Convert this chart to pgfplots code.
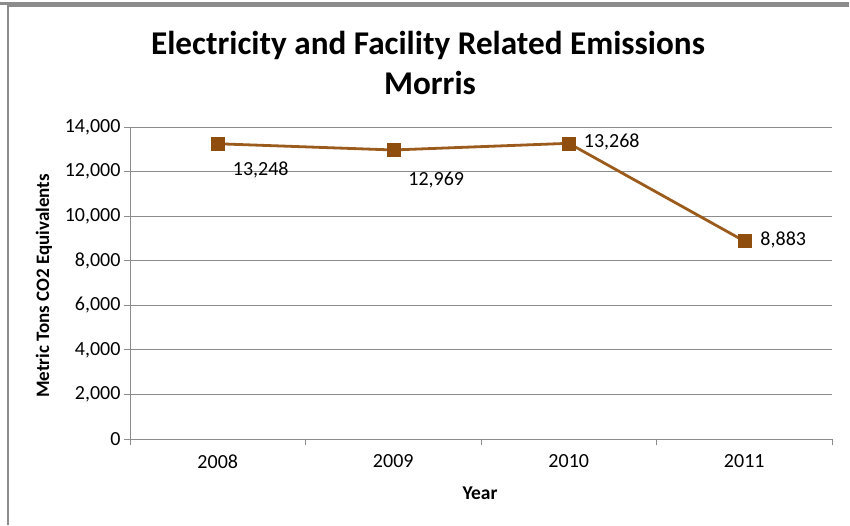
\documentclass[border=0pt]{standalone}
\usepackage{pgfplots}
\pgfplotsset{compat=1.18}
\usepackage{fontspec}
\setmainfont{Carlito}
\definecolor{gridgray}{HTML}{8C8C8C}
\definecolor{linebrown}{HTML}{9B5B1C}
\definecolor{markbrown}{HTML}{8F4E0E}
\begin{document}
\begin{tikzpicture}[x=1pt,y=1pt]
\useasboundingbox (0,0) rectangle (850,525);
% frame
\draw[gridgray,line width=1.3pt] (0,522) -- (848,522) -- (848,519) -- (8,519) -- (8,0);
\draw[gridgray,line width=1pt] (0,520.5) -- (848,520.5);
% titles
\node[font=\fontsize{33.2}{33.2}\selectfont\bfseries] at (428,480) {Electricity and Facility Related Emissions};
\node[font=\fontsize{33.2}{33.2}\selectfont\bfseries] at (430,442) {Morris};
\node[font=\fontsize{19}{19}\selectfont\bfseries,rotate=90] at (44,239) {Metric Tons CO2 Equivalents};
\node[font=\fontsize{19.5}{19.5}\selectfont\bfseries] at (480,32) {Year};
\begin{axis}[
  at={(130pt,86pt)}, anchor=south west,
  scale only axis, width=702pt, height=312pt,
  xmin=-0.5, xmax=3.5, ymin=0, ymax=14000,
  axis x line*=bottom, axis y line*=left,
  axis line style={gridgray, line width=0.9pt},
  xtick={0,1,2,3}, xticklabels={2008,2009,2010,2011},
  minor xtick={-0.5,0.5,1.5,2.5,3.5},
  ytick={0,2000,4000,6000,8000,10000,12000,14000},
  ymajorgrids, major grid style={gridgray, line width=0.9pt},
  tick align=outside,
  major x tick style={draw=none},
  minor x tick style={gridgray, line width=0.9pt},
  minor tick length=6pt,
  major y tick style={gridgray, line width=0.9pt},
  major tick length=6pt,
  /pgf/number format/assume math mode=true,
  yticklabel style={/pgf/number format/.cd,1000 sep={,},fixed},
  scaled y ticks=false,
  tick label style={font=\fontsize{20}{20}\selectfont},
  xticklabel style={yshift=-6pt},
  clip=false,
]
\addplot[linebrown, line width=2.8pt, mark=square*, mark size=6.5pt,
  mark options={fill=markbrown, draw=markbrown, line width=0.5pt}]
  coordinates {(0,13248) (1,12969) (2,13268) (3,8883)};
\begin{scope}[font=\fontsize{20}{20}\selectfont]
\node at (axis cs:0,13248) [xshift=43pt,yshift=-26pt] {13,248};
\node at (axis cs:1,12969) [xshift=43pt,yshift=-30pt] {12,969};
\node at (axis cs:2,13268) [xshift=43pt,yshift=1pt] {13,268};
\node at (axis cs:3,8883) [xshift=39pt,yshift=1pt] {8,883};
\end{scope}
\end{axis}
\end{tikzpicture}
\end{document}
